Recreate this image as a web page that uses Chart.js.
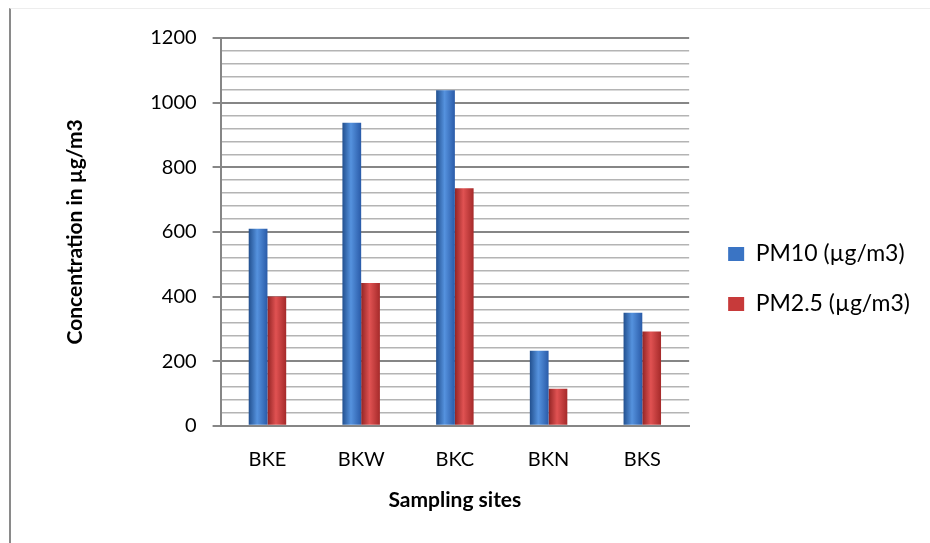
<!DOCTYPE html>
<html>
<head>
<meta charset="utf-8">
<script src="https://cdn.jsdelivr.net/npm/chart.js@4"></script>
<style>
  html, body { margin: 0; padding: 0; background: #fff; }
  .wrap { position: relative; width: 930px; height: 543px; }
  .frame { position: absolute; left: 9px; top: 8px; right: 0; bottom: 0;
           border-left: 2px solid #8a8a8a; border-top: 1px solid #ededed; }
  canvas { position: absolute; left: 0; top: 0; }
</style>
</head>
<body>
<div class="wrap">
  <div class="frame"></div>
  <canvas id="chart" width="930" height="543"></canvas>
</div>
<script>
// data
const sites = ['BKE', 'BKW', 'BKC', 'BKN', 'BKS'];
const pm10 = [610, 938, 1038, 232, 350];
const pm25 = [400, 442, 735, 115, 292];
const seriesNames = ['PM10 (µg/m3)', 'PM2.5 (µg/m3)'];
const yMax = 1200;
const minorStep = 40;
const majorStep = 200;

const FONT = 'Lato, "Open Sans", sans-serif';
const baseColors = ['#3a74c4', '#c73a3a'];

// legend sizes, so the right padding leaves room for the longest label
let legendPad = 27, legendBox = 16, legendFont = 23;
let legendLeft = 701;
let measure = document.createElement('canvas').getContext('2d');
measure.font = legendFont + 'px ' + FONT;
let longest = Math.max(...seriesNames.map(s => measure.measureText(s).width));
let legendWidth = legendPad + legendBox + legendFont / 2 + longest;
let rightPad = Math.max(0, Math.round(930 - legendLeft - legendWidth - legendFont / 2 + 1));

// cylinder-ish shading for bars, built from each bar's own position
let shade = {
    id: 'shade',
    beforeDatasetsDraw(chart) {
        let ctx = chart.ctx;
        let tones = [
            ['#22508f', '#5592de', '#2a5ba8'],
            ['#922424', '#e05252', '#a52a2a']
        ];
        chart.data.datasets.forEach((ds, i) => {
            let meta = chart.getDatasetMeta(i);
            meta.data.forEach(bar => {
                let w = bar.width;
                let g = ctx.createLinearGradient(bar.x - w / 2, 0, bar.x + w / 2, 0);
                g.addColorStop(0, tones[i][0]);
                g.addColorStop(0.45, tones[i][1]);
                g.addColorStop(1, tones[i][2]);
                bar.options = Object.assign({}, bar.options, { backgroundColor: g });
            });
        });
    }
};

let isMajor = v => v % majorStep === 0;

new Chart(document.getElementById('chart'), {
    type: 'bar',
    data: {
        labels: sites,
        datasets: [
            { label: seriesNames[0], data: pm10, backgroundColor: baseColors[0] },
            { label: seriesNames[1], data: pm25, backgroundColor: baseColors[1] }
        ]
    },
    options: {
        responsive: false,
        animation: false,
        devicePixelRatio: 1,
        layout: { padding: { left: 0, right: rightPad, top: 38, bottom: 30 } },
        datasets: {
            bar: { categoryPercentage: 0.4, barPercentage: 1.0 }
        },
        plugins: {
            tooltip: { enabled: false },
            legend: {
                position: 'right',
                title: { display: true, text: '', font: { size: 7, lineHeight: 1 }, padding: 0 },
                labels: {
                    boxWidth: legendBox,
                    boxHeight: 14,
                    padding: legendPad,
                    color: '#000',
                    font: { family: FONT, size: legendFont }
                }
            }
        },
        scales: {
            x: {
                grid: { display: false, drawTicks: false },
                border: { display: true, color: '#868686', width: 2 },
                ticks: { color: '#000', padding: 22, font: { family: FONT, size: 20 } },
                title: {
                    display: true,
                    text: 'Sampling sites',
                    color: '#000',
                    font: { family: FONT, size: 21, weight: 'bold' },
                    padding: { top: -6, bottom: 0 }
                }
            },
            y: {
                min: 0,
                max: yMax,
                grid: {
                    color: c => isMajor(c.tick.value) ? '#868686' : '#b4b4b4',
                    lineWidth: c => isMajor(c.tick.value) ? 2 : 1.5,
                    tickColor: c => isMajor(c.tick.value) ? '#868686' : 'rgba(0,0,0,0)',
                    tickLength: 8
                },
                border: { display: true, color: '#868686', width: 2 },
                ticks: {
                    stepSize: minorStep,
                    autoSkip: false,
                    padding: 16,
                    color: '#000',
                    font: { family: FONT, size: 20 },
                    callback: v => isMajor(v) ? v : ''
                },
                title: {
                    display: true,
                    text: 'Concentration in µg/m3',
                    color: '#000',
                    font: { family: FONT, size: 21, weight: 'bold' },
                    padding: { top: 63, bottom: 46 }
                }
            },
            gap: {
                position: 'right',
                display: false,
                afterFit(s) { s.width = 12; }
            }
        }
    },
    plugins: [shade]
});
</script>
</body>
</html>
